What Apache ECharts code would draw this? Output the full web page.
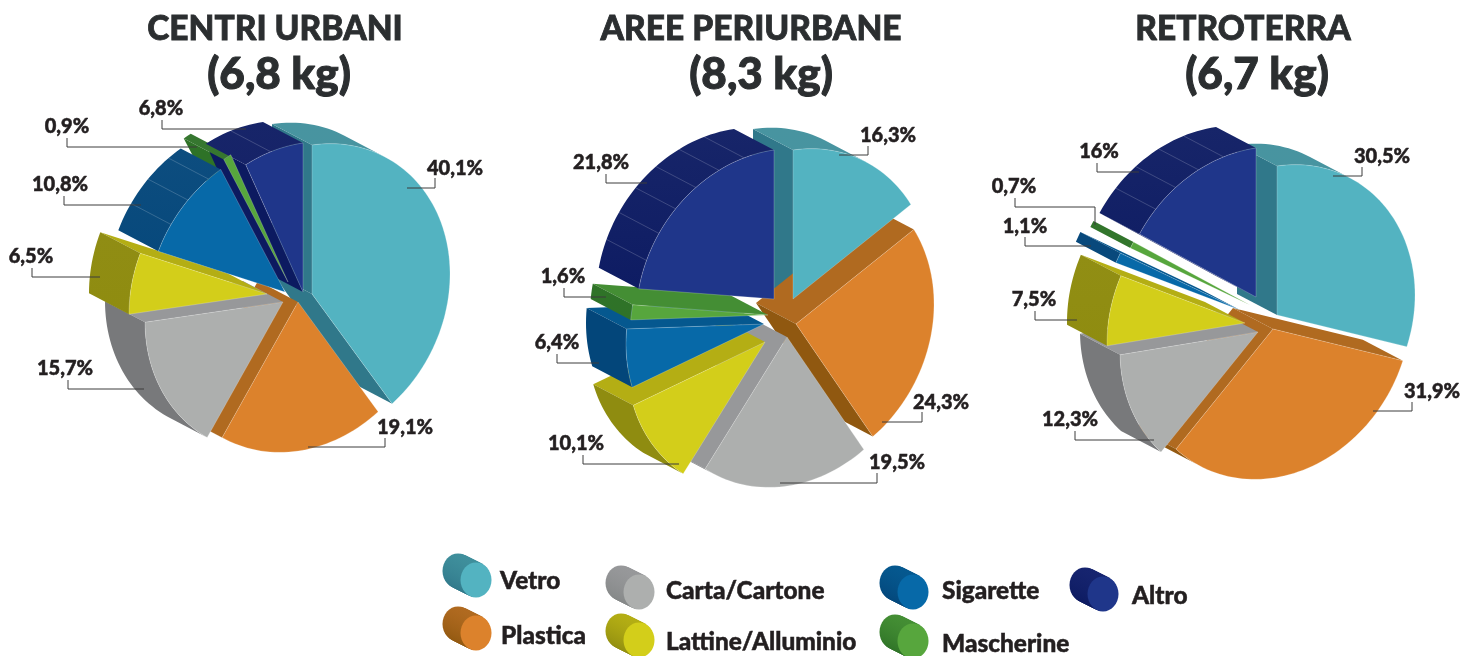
<!DOCTYPE html>
<html lang="it">

<head>
    <meta charset="UTF-8">
    <title>Rifiuti per area</title>
    <style>
        html, body { margin: 0; padding: 0; background: #fff; }
        #main { width: 1476px; height: 656px; }
    </style>
    <script src="https://cdn.jsdelivr.net/npm/echarts@6/dist/echarts.min.js"></script>
</head>

<body>
    <div id="main"></div>
    <script>
        // dati
        const categories = ['Vetro', 'Plastica', 'Carta/Cartone', 'Lattine/Alluminio', 'Sigarette', 'Mascherine', 'Altro'];
        const centriUrbani = [40.1, 19.1, 15.7, 6.5, 10.8, 0.9, 6.8];
        const areePeriurbane = [16.3, 24.3, 19.5, 10.1, 6.4, 1.6, 21.8];
        const retroterra = [30.5, 31.9, 12.3, 7.5, 1.1, 0.7, 16];
        const pieTitles = ['CENTRI URBANI', 'AREE PERIURBANE', 'RETROTERRA'];
        const pieWeights = ['(6,8 kg)', '(8,3 kg)', '(6,7 kg)'];

        // colori: faccia, parete esterna, taglio chiaro, taglio scuro
        const faceColors = ['#53B3C1', '#DC822C', '#ADAFAE', '#D3CE1A', '#0769A8', '#57A63D', '#1F368A'];
        const wallColors = ['#3F8F9C', '#945A12', '#78797B', '#8F8C10', '#03467A', '#2E7227', '#0C1A62'];
        const cutLight = ['#3F8F9C', '#B06A20', '#97989A', '#B4AE14', '#05588F', '#448E34', '#16246F'];
        const cutDark = ['#30788A', '#905810', '#848787', '#8F8C10', '#03467A', '#2E7227', '#0C1A60'];

        // impaginazione
        const RX = 138, RY = 149, SHEAR = 20 / 149;
        const DEPTH_X = -40 / RX, DEPTH_Y = -21 / RY;
        const RIB_STEP = 11;
        const pieCenters = [[300, 295], [780, 315], [1260, 315]];
        const pieOffsets = [
            [[12, -1], [-2, 7], [-17, 7], [-33, -1], [-15, -3], [-12, -13], [3, -3]],
            [[13, -16], [16, 9], [7, 22], [-15, 27], [-16, 9], [-12, 0], [-6, -16]],
            [[17, 0], [13, 14], [-2, 17], [-15, 8], [-20, -5], [-10, -10], [-4, -18]]
        ];
        // posizione etichetta e linea guida di ogni fetta
        const labelPos = [
            [[455, 169], [405, 428], [65, 369], [31, 257], [60, 185], [67, 127], [161, 109]],
            [[888, 136], [941, 403], [897, 463], [576, 444], [557, 343], [563, 277], [601, 163]],
            [[1382, 157], [1432, 392], [1070, 420], [1034, 300], [1025, 227], [1014, 187], [1099, 152]]
        ];
        const leaderLines = [
            [
                [[407, 188], [435, 188], [435, 178]],
                [[308, 447], [385, 447], [385, 438]],
                [[68, 380], [68, 389], [144, 389]],
                [[32, 268], [32, 277], [100, 277]],
                [[64, 196], [64, 205], [141, 205]],
                [[67, 138], [67, 147], [197, 147]],
                [[162, 120], [162, 129], [246, 129]]
            ],
            [
                [[839, 155], [868, 155], [868, 146]],
                [[882, 422], [922, 422], [922, 412]],
                [[780, 483], [877, 483], [877, 473]],
                [[583, 455], [583, 464], [679, 464]],
                [[557, 354], [557, 363], [599, 363]],
                [[564, 288], [564, 297], [606, 297]],
                [[606, 174], [606, 183], [647, 183]]
            ],
            [
                [[1333, 176], [1362, 176], [1362, 167]],
                [[1373, 411], [1412, 411], [1412, 402]],
                [[1075, 431], [1075, 440], [1154, 440]],
                [[1035, 311], [1035, 320], [1077, 320]],
                [[1025, 237], [1025, 246], [1091, 246]],
                [[1015, 198], [1015, 207], [1095, 207], [1095, 225]],
                [[1097, 163], [1097, 172], [1139, 172]]
            ]
        ];
        const titlePos = [[270, 24], [746, 24], [1238, 24]];
        const weightPos = [[274, 70], [756, 70], [1252, 70]];
        const legendFaces = [[476, 580], [476, 633], [639, 592], [639, 640], [913, 592], [913, 641], [1103, 594]];
        const legendTexts = [[500, 581], [501, 636], [666, 591], [666, 642], [942, 591], [942, 644], [1132, 596]];

        function sliceAngles(values) {
            let total = values.reduce((a, b) => a + b, 0);
            let acc = 0;
            return values.map(v => {
                let start = acc / total * 360;
                acc += v;
                return [start, acc / total * 360];
            });
        }

        // punto sul bordo della torta, in unita' di raggio
        function rimPoint(angle, off) {
            let t = angle * Math.PI / 180;
            return [off[0] / RX + Math.sin(t), off[1] / RY - Math.cos(t) - SHEAR * Math.sin(t)];
        }

        function arcAngles(start, end) {
            let pts = [];
            let n = Math.max(2, Math.ceil((end - start) / 2));
            for (let i = 0; i <= n; i++) {
                pts.push(start + (end - start) * i / n);
            }
            return pts;
        }

        function shifted(p) {
            return [p[0] + DEPTH_X, p[1] + DEPTH_Y];
        }

        // il bordo a->b guarda verso chi osserva? up = quanto e' rivolto in alto
        function facing(a, b, api) {
            let pa = api.coord(a), pb = api.coord(b);
            let tx = pb[0] - pa[0], ty = pb[1] - pa[1];
            let len = Math.sqrt(tx * tx + ty * ty) || 1;
            let nx = ty / len, ny = -tx / len;
            return { show: nx * -40 + ny * -21 > 0, up: -ny };
        }

        // tagli radiali, disegnati per primi
        function renderCuts(values, offsets) {
            let angles = sliceAngles(values);
            return function (params, api) {
                let i = params.dataIndex;
                let off = offsets[i];
                let apex = [off[0] / RX, off[1] / RY];
                let children = [];
                [[apex, rimPoint(angles[i][0], off)], [rimPoint(angles[i][1], off), apex]].forEach(e => {
                    let f = facing(e[0], e[1], api);
                    if (f.show) {
                        children.push({
                            type: 'polygon', silent: true,
                            shape: { points: [e[0], e[1], shifted(e[1]), shifted(e[0])].map(p => api.coord(p)) },
                            style: { fill: f.up > 0.4 ? cutLight[i] : cutDark[i] }
                        });
                    }
                });
                return { type: 'group', children: children };
            };
        }

        // parete esterna con le righe sottili
        function renderRims(values, offsets) {
            let angles = sliceAngles(values);
            return function (params, api) {
                let i = params.dataIndex;
                let off = offsets[i];
                let start = angles[i][0], end = angles[i][1];
                let steps = arcAngles(start, end);
                let children = [];
                let front = [];
                let topUp = -1, lowUp = 1;
                for (let k = 0; k < steps.length - 1; k++) {
                    let a = rimPoint(steps[k], off), b = rimPoint(steps[k + 1], off);
                    let f = facing(a, b, api);
                    if (f.show) {
                        if (!front.length) front.push(a);
                        front.push(b);
                        topUp = Math.max(topUp, f.up);
                        lowUp = Math.min(lowUp, f.up);
                    }
                }
                if (front.length > 1) {
                    let outline = front.concat(front.slice().reverse().map(shifted)).map(p => api.coord(p));
                    children.push({
                        type: 'polygon', silent: true,
                        shape: { points: outline },
                        style: {
                            fill: new echarts.graphic.LinearGradient(0, 0, 0, 1, [
                                { offset: 0, color: echarts.color.lift(wallColors[i], Math.max(0, topUp) * 0.05) },
                                { offset: 1, color: echarts.color.lift(wallColors[i], Math.max(0, lowUp) * 0.05) }
                            ])
                        }
                    });
                }
                let ribbed = i === 6 || (i === 4 && end - start > 30);
                if (ribbed) {
                    for (let r = start + RIB_STEP; r < end - 4; r += RIB_STEP) {
                        let p = rimPoint(r, off);
                        let q = api.coord(p), q2 = api.coord(shifted(p));
                        children.push({
                            type: 'line', silent: true,
                            shape: { x1: q[0], y1: q[1], x2: q2[0], y2: q2[1] },
                            style: { stroke: 'rgba(255,255,255,0.3)', lineWidth: 0.6 }
                        });
                    }
                }
                return { type: 'group', children: children };
            };
        }

        function renderTops(values, offsets) {
            let angles = sliceAngles(values);
            return function (params, api) {
                let i = params.dataIndex;
                let off = offsets[i];
                let pts = [api.coord([off[0] / RX, off[1] / RY])];
                arcAngles(angles[i][0], angles[i][1]).forEach(a => pts.push(api.coord(rimPoint(a, off))));
                return {
                    type: 'polygon', silent: true,
                    shape: { points: pts },
                    style: { fill: faceColors[i], stroke: 'rgba(255,255,255,0.35)', lineWidth: 0.6 }
                };
            };
        }

        function formatValue(v) {
            return String(v).replace('.', ',') + '%';
        }

        let allValues = [centriUrbani, areePeriurbane, retroterra];

        let grids = pieCenters.map(c => ({
            left: c[0] - 1.5 * RX, top: c[1] - 1.5 * RY, width: 3 * RX, height: 3 * RY
        }));
        let xAxes = pieCenters.map((c, k) => ({ type: 'value', gridIndex: k, min: -1.5, max: 1.5, show: false }));
        let yAxes = pieCenters.map((c, k) => ({ type: 'value', gridIndex: k, min: -1.5, max: 1.5, inverse: true, show: false }));

        let series = [];
        allValues.forEach((values, k) => {
            let data = values.map((v, i) => ({ name: categories[i], value: [0, 0, v] }));
            [renderCuts, renderRims, renderTops].forEach((render, layer) => {
                series.push({
                    type: 'custom', xAxisIndex: k, yAxisIndex: k, clip: false,
                    renderItem: render(values, pieOffsets[k]), data: data, z: 2 + layer
                });
            });
        });

        // titoli
        let titles = [];
        pieTitles.forEach((t, k) => {
            titles.push({
                text: t, left: titlePos[k][0], top: titlePos[k][1], textAlign: 'center', textVerticalAlign: 'middle',
                textStyle: { fontFamily: 'Lato', fontWeight: 900, fontSize: 33.5, color: '#2B2E30', textBorderColor: '#2B2E30', textBorderWidth: 0.8 }
            });
            titles.push({
                text: pieWeights[k], left: weightPos[k][0], top: weightPos[k][1], textAlign: 'center', textVerticalAlign: 'middle',
                textStyle: { fontFamily: 'Lato', fontWeight: 900, fontSize: 44, color: '#2B2E30', textBorderColor: '#2B2E30', textBorderWidth: 1 }
            });
        });

        // etichette con linea guida e legenda a cilindri
        let elements = [];
        allValues.forEach((values, k) => {
            values.forEach((v, i) => {
                elements.push({
                    type: 'polyline', z: 50, silent: true,
                    shape: { points: leaderLines[k][i] },
                    style: { stroke: '#3C3C3C', lineWidth: 1, fill: null }
                });
                elements.push({
                    type: 'text', z: 51, silent: true,
                    x: labelPos[k][i][0], y: labelPos[k][i][1],
                    style: {
                        text: formatValue(v), align: 'center', verticalAlign: 'middle',
                        font: '900 20px Lato', fill: '#231F20', stroke: '#231F20', lineWidth: 0.5
                    }
                });
            });
        });

        categories.forEach((name, i) => {
            let c = legendFaces[i];
            for (let s = 18; s >= 1; s--) {
                elements.push({
                    type: 'ellipse', z: 50, silent: true,
                    shape: { cx: c[0] - s, cy: c[1] - s * 0.5, rx: 15.5, ry: 17.5 },
                    style: {
                        fill: new echarts.graphic.LinearGradient(0, 0, 0, 1, [
                            { offset: 0, color: cutLight[i] },
                            { offset: 1, color: cutDark[i] }
                        ])
                    }
                });
            }
            elements.push({
                type: 'ellipse', z: 51, silent: true,
                shape: { cx: c[0], cy: c[1], rx: 15.5, ry: 17.5 },
                style: { fill: faceColors[i] }
            });
            elements.push({
                type: 'text', z: 51, silent: true,
                x: legendTexts[i][0], y: legendTexts[i][1],
                style: {
                    text: name, align: 'left', verticalAlign: 'middle',
                    font: '900 24.4px Lato', fill: '#231F20', stroke: '#231F20', lineWidth: 0.5
                }
            });
        });

        let myChart = echarts.init(document.getElementById('main'));
        myChart.setOption({
            animation: false,
            backgroundColor: '#fff',
            title: titles,
            grid: grids,
            xAxis: xAxes,
            yAxis: yAxes,
            graphic: { elements: elements },
            series: series
        });
    </script>
</body>

</html>
